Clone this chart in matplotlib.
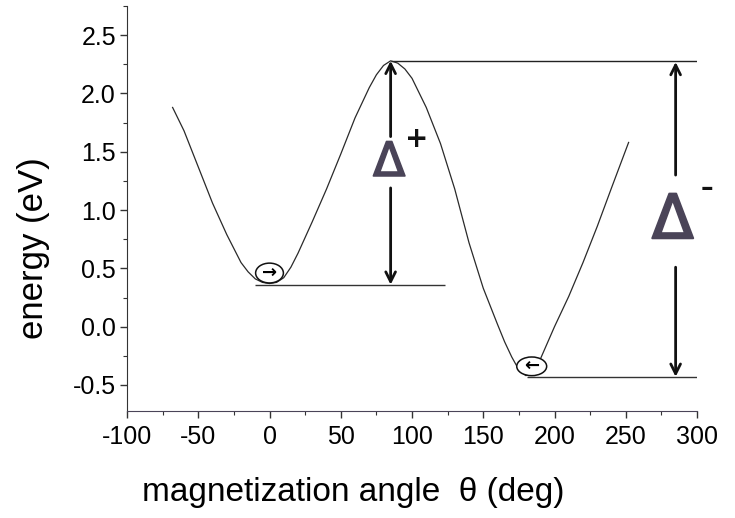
import matplotlib.pyplot as plt
import matplotlib.patheffects as pe
from matplotlib.patches import Ellipse
from matplotlib.ticker import MultipleLocator

plt.rcParams['font.family'] = ['Liberation Sans', 'DejaVu Sans']
plt.rcParams['axes.unicode_minus'] = False

# energy profile vs magnetization angle
theta = [-68, -60, -50, -40, -30, -20, -15, -10, -5, 0, 5, 10, 15, 20, 30, 40, 50, 60,
         70, 75, 80, 85, 90, 95, 100, 110, 120, 130, 140, 150, 160, 165, 170, 175, 180,
         185, 190, 195, 200, 210, 220, 230, 240, 252]
energy = [1.88, 1.68, 1.37, 1.06, 0.79, 0.55, 0.47, 0.41, 0.38, 0.37, 0.38, 0.42, 0.51,
          0.63, 0.90, 1.18, 1.48, 1.79, 2.05, 2.16, 2.24, 2.28, 2.26, 2.21, 2.13, 1.88,
          1.57, 1.18, 0.72, 0.33, 0.02, -0.13, -0.26, -0.37, -0.42, -0.38, -0.28, -0.14,
          0.00, 0.26, 0.55, 0.86, 1.19, 1.58]

# reference levels: barrier top, the two minima
e_top = 2.28
e_min_p = 0.36
e_min_m = -0.43
theta_top = 85
theta_right = 285

fig = plt.figure(figsize=(7.35, 5.18), dpi=100)
ax = fig.add_axes([0.1728, 0.2066, 0.7755, 0.7818])

ax.plot(theta, energy, color='#2a2a2a', lw=0.9)

# horizontal level lines
ax.hlines(e_top, theta_top, 303, color='#222222', lw=1.0)
ax.hlines(e_min_p, -10, 123, color='#333333', lw=1.0)
ax.hlines(e_min_m, 181, 305, color='#333333', lw=1.0)

arrow = dict(arrowstyle='->,head_length=0.7,head_width=0.35', lw=2.0, color='#111111',
             shrinkA=0, shrinkB=0)
# Delta+ arrows
ax.annotate('', xy=(theta_top, e_top), xytext=(theta_top, 1.63), arrowprops=arrow)
ax.annotate('', xy=(theta_top, e_min_p), xytext=(theta_top, 1.19), arrowprops=arrow)
# Delta- arrows
ax.annotate('', xy=(theta_right, e_top - 0.01), xytext=(theta_right, 1.30), arrowprops=arrow)
ax.annotate('', xy=(theta_right, e_min_m), xytext=(theta_right, 0.51), arrowprops=arrow)

# hollow delta glyphs
delta_col = '#4a4458'
ax.text(theta_top - 1, 1.40, 'Δ', fontsize=34, color=delta_col, ha='center', va='center',
        family='DejaVu Sans',
        path_effects=[pe.withStroke(linewidth=1.2, foreground=delta_col)])
ax.text(103, 1.61, '+', fontsize=20, fontweight='bold', color='#111111',
        ha='center', va='center', family='DejaVu Sans')
ax.text(theta_right - 2, 0.90, 'Δ', fontsize=44, color=delta_col, ha='center', va='center',
        family='DejaVu Sans',
        path_effects=[pe.withStroke(linewidth=1.5, foreground=delta_col)])
ax.text(307, 1.19, '–', fontsize=18, fontweight='bold', color='#111111',
        ha='center', va='center', family='DejaVu Sans')

# magnetization direction markers at the minima
ax.add_patch(Ellipse((0, 0.46), 19.5, 0.17, fc='white', ec='#111111', lw=1.1, zorder=3))
ax.text(0, 0.46, '→', fontsize=13, fontweight='bold', ha='center', va='center',
        family='DejaVu Sans', zorder=4)
ax.add_patch(Ellipse((184, -0.34), 21, 0.16, fc='white', ec='#111111', lw=1.1, zorder=3))
ax.text(184, -0.34, '←', fontsize=13, fontweight='bold', ha='center', va='center',
        family='DejaVu Sans', zorder=4)

ax.set_xlim(-100, 300)
ax.set_ylim(-0.723, 2.75)
ax.xaxis.set_major_locator(MultipleLocator(50))
ax.xaxis.set_minor_locator(MultipleLocator(25))
ax.yaxis.set_major_locator(MultipleLocator(0.5))
ax.yaxis.set_minor_locator(MultipleLocator(0.25))
ax.yaxis.set_major_formatter(plt.FormatStrFormatter('%.1f'))

for side in ['top', 'right']:
    ax.spines[side].set_visible(False)
ax.spines['left'].set_color('#333333')
ax.spines['bottom'].set_color('#4a4458')
ax.tick_params(which='major', length=5, width=1, labelsize=18, color='#333333')
ax.tick_params(which='minor', length=3, width=0.8, color='#333333')
ax.tick_params(axis='x', pad=5)
ax.tick_params(axis='y', pad=3)

fig.text(353 / 735, 1 - 493 / 518, 'magnetization angle  θ (deg)', fontsize=24,
         ha='center', va='center')
fig.text(34 / 735, 1 - 248 / 518, 'energy (eV)', fontsize=25, rotation=90,
         ha='center', va='center')

plt.savefig('out.png', dpi=100)
